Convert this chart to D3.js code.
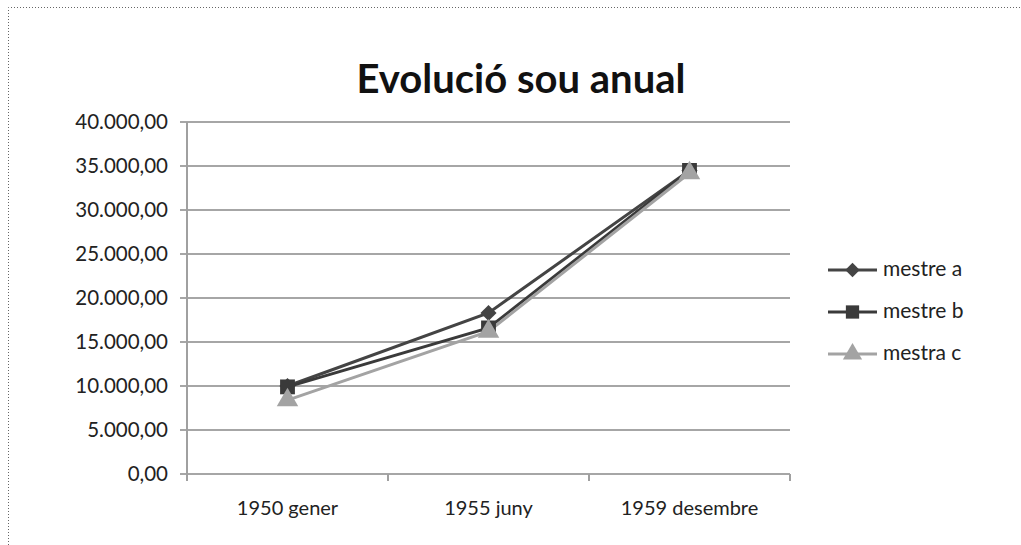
<!DOCTYPE html>
<html>
<head>
<meta charset="utf-8">
<script src="https://cdn.jsdelivr.net/npm/d3@7"></script>
<style>
  body { margin: 0; background: #fff; }
  svg { display: block; }
</style>
</head>
<body>
<svg id="chart" width="1021" height="545"></svg>
<script>
// chart data
const categories = ["1950 gener", "1955 juny", "1959 desembre"]
const seriesNames = ["mestre a", "mestre b", "mestra c"]
const mestreA = [10000, 18300, 34500]
const mestreB = [9900, 16600, 34500]
const mestraC = [8400, 16200, 34200]
const yTicks = [0, 5000, 10000, 15000, 20000, 25000, 30000, 35000, 40000]

// diamond drawn as a square turned 45 degrees
const series = [
  { name: seriesNames[0], values: mestreA, color: "#444444", symbol: d3.symbolSquare, size: 130, rot: 45 },
  { name: seriesNames[1], values: mestreB, color: "#3a3a3a", symbol: d3.symbolSquare, size: 220, rot: 0 },
  { name: seriesNames[2], values: mestraC, color: "#a3a3a3", symbol: d3.symbolTriangle, size: 200, rot: 0 }
]

const width = 1021, height = 545
const margin = { left: 187, right: 231, top: 122, bottom: 71 }

const svg = d3.select("#chart")
const font = "Lato, 'Open Sans', sans-serif"

// dotted frame
svg.append("path")
    .attr("d", `M8.5,${height} L8.5,7.5 L${width},7.5`)
    .attr("fill", "none")
    .attr("stroke", "#666")
    .attr("stroke-dasharray", "1,2")

const x = d3.scaleBand()
    .domain(categories)
    .range([margin.left, width - margin.right])

const y = d3.scaleLinear()
    .domain([0, 40000])
    .range([height - margin.bottom, margin.top])

const fmt = v => d3.format(",.2f")(v).replace(/,/g, "#").replace(".", ",").replace(/#/g, ".")

// gridlines
svg.append("g")
  .selectAll("line")
  .data(yTicks)
  .join("line")
    .attr("x1", margin.left - 7)
    .attr("x2", width - margin.right)
    .attr("y1", d => y(d))
    .attr("y2", d => y(d))
    .attr("stroke", "#a6a6a6")
    .attr("stroke-width", 2)

// y axis labels
svg.append("g")
  .selectAll("text")
  .data(yTicks)
  .join("text")
    .attr("x", margin.left - 19)
    .attr("y", d => y(d))
    .attr("dy", "0.35em")
    .attr("text-anchor", "end")
    .attr("font-family", font)
    .attr("font-size", 20.5)
    .attr("fill", "#222")
    .text(fmt)

// y axis line
svg.append("line")
    .attr("x1", margin.left).attr("x2", margin.left)
    .attr("y1", y(40000)).attr("y2", y(0) + 7)
    .attr("stroke", "#a0a0a0").attr("stroke-width", 2)

// x axis
const xAxis = svg.append("g")
    .attr("transform", `translate(0,${y(0)})`)
    .call(d3.axisBottom(x).tickSize(0).tickValues([]))
xAxis.select(".domain").remove()
xAxis.selectAll("line.sep")
  .data(categories.concat(["end"]))
  .join("line")
    .attr("class", "sep")
    .attr("x1", (d, i) => i < categories.length ? x(d) : x(categories[categories.length - 1]) + x.bandwidth())
    .attr("x2", (d, i) => i < categories.length ? x(d) : x(categories[categories.length - 1]) + x.bandwidth())
    .attr("y1", 0).attr("y2", 7)
    .attr("stroke", "#a0a0a0").attr("stroke-width", 2)
xAxis.selectAll("text.cat")
  .data(categories)
  .join("text")
    .attr("class", "cat")
    .attr("x", d => x(d) + x.bandwidth() / 2)
    .attr("y", 41)
    .attr("text-anchor", "middle")
    .attr("font-family", font)
    .attr("font-size", 20)
    .attr("fill", "#222")
    .text(d => d)

// lines and markers
const line = d3.line()
    .x((d, i) => x(categories[i]) + x.bandwidth() / 2)
    .y(d => y(d))

series.forEach(s => {
  svg.append("path")
      .datum(s.values)
      .attr("fill", "none")
      .attr("stroke", s.color)
      .attr("stroke-width", 3)
      .attr("d", line)
})

series.forEach(s => {
  svg.append("g")
    .selectAll("path")
    .data(s.values)
    .join("path")
      .attr("transform", (d, i) => `translate(${x(categories[i]) + x.bandwidth() / 2},${y(d)}) rotate(${s.rot})`)
      .attr("d", d3.symbol(s.symbol, s.size))
      .attr("fill", s.color)
})

// title
svg.append("text")
    .attr("x", 521)
    .attr("y", 93)
    .attr("text-anchor", "middle")
    .attr("font-family", font)
    .attr("font-weight", "bold")
    .attr("font-size", 40)
    .attr("fill", "#111")
    .text("Evolució sou anual")

// legend
const legend = svg.append("g")
  .selectAll("g")
  .data(series)
  .join("g")
    .attr("transform", (d, i) => `translate(828,${270 + i * 42})`)

legend.append("line")
    .attr("x1", 0).attr("x2", 49)
    .attr("stroke", d => d.color)
    .attr("stroke-width", 3)
legend.append("path")
    .attr("transform", d => `translate(24.5,0) rotate(${d.rot})`)
    .attr("d", d => d3.symbol(d.symbol, d.size * 0.8)())
    .attr("fill", d => d.color)
legend.append("text")
    .attr("x", 55)
    .attr("dy", "0.3em")
    .attr("font-family", font)
    .attr("font-size", 21)
    .attr("fill", "#222")
    .text(d => d.name)
</script>
</body>
</html>
